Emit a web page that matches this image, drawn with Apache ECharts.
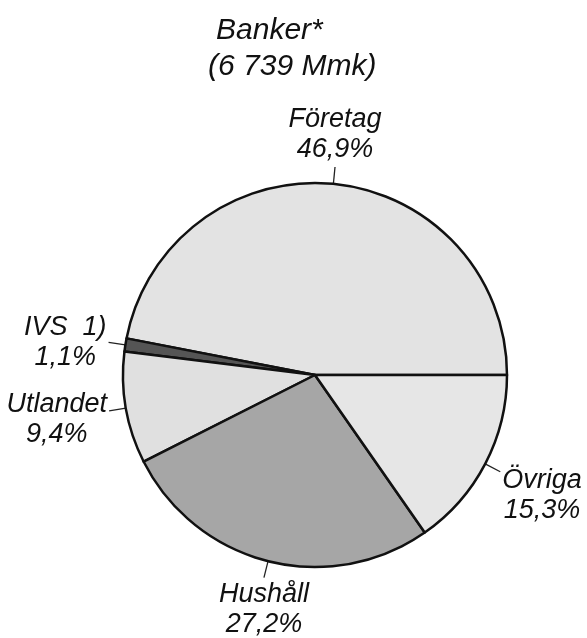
<!DOCTYPE html>
<html>
<head>
<meta charset="utf-8">
<script src="https://cdn.jsdelivr.net/npm/echarts@6/dist/echarts.min.js"></script>
<style>
  html, body { margin: 0; padding: 0; background: #fff; }
  #chart { width: 587px; height: 638px; }
</style>
</head>
<body>
<div id="chart"></div>
<script>
// andelar i procent, moturs från klockan 3
var categories = ['Företag', 'IVS  1)', 'Utlandet', 'Hushåll', 'Övriga']
var shares = [46.9, 1.1, 9.4, 27.2, 15.3]
var titleLines = ['Banker*', '(6 739 Mmk)']

var sliceColors = ['#e3e3e3', '#555555', '#e0e0e0', '#a6a6a6', '#e6e6e6']
var fontFamily = "'Liberation Sans', Arial, sans-serif"

var chart = echarts.init(document.getElementById('chart'))

var pieData = categories.map(function (name, i) {
  return { name: name, value: shares[i], itemStyle: { color: sliceColors[i] } }
})

var option = {
  animation: false,
  backgroundColor: '#fff',
  title: [
    {
      text: titleLines[0],
      left: 211,
      top: 11,
      textStyle: { fontFamily: fontFamily, fontStyle: 'italic', fontWeight: 'normal', fontSize: 30, color: '#111' }
    },
    {
      text: titleLines[1],
      left: 203,
      top: 47,
      textStyle: { fontFamily: fontFamily, fontStyle: 'italic', fontWeight: 'normal', fontSize: 30, color: '#111' }
    }
  ],
  series: [
    {
      type: 'pie',
      center: [315, 375],
      radius: 192,
      startAngle: 0,
      clockwise: false,
      avoidLabelOverlap: false,
      data: pieData,
      itemStyle: { borderColor: '#111', borderWidth: 2.5 },
      emphasis: { disabled: true },
      label: {
        show: true,
        position: 'outside',
        fontFamily: fontFamily,
        fontStyle: 'italic',
        fontSize: 27,
        lineHeight: 30,
        color: '#111',
        formatter: function (p) {
          return p.name + '\n' + p.value.toFixed(1).replace('.', ',') + '%'
        }
      },
      labelLine: {
        show: true,
        length: 17,
        length2: 0,
        smooth: false,
        lineStyle: { color: '#222', width: 1.3 }
      },
      labelLayout: function (p) {
        var pts = p.labelLinePoints
        if (!pts) return {}
        var start = pts[0]
        var end = pts[pts.length - 1]
        var dx = end[0] - start[0]
        var dy = end[1] - start[1]
        var len = Math.sqrt(dx * dx + dy * dy) || 1
        var w = p.labelRect.width
        var h = p.labelRect.height
        var gap = 2
        var cx, cy
        if (Math.abs(dy) > Math.abs(dx)) {
          cx = end[0]
          cy = end[1] + (dy > 0 ? 1 : -1) * (h / 2 + gap)
        } else {
          cx = end[0] + (dx > 0 ? 1 : -1) * (w / 2 + gap)
          cy = end[1] + Math.max(dy / len, 0) * h * 0.85
        }
        return {
          x: cx,
          y: cy,
          align: 'center',
          verticalAlign: 'middle',
          labelLinePoints: pts
        }
      }
    }
  ]
}

chart.setOption(option)
</script>
</body>
</html>
